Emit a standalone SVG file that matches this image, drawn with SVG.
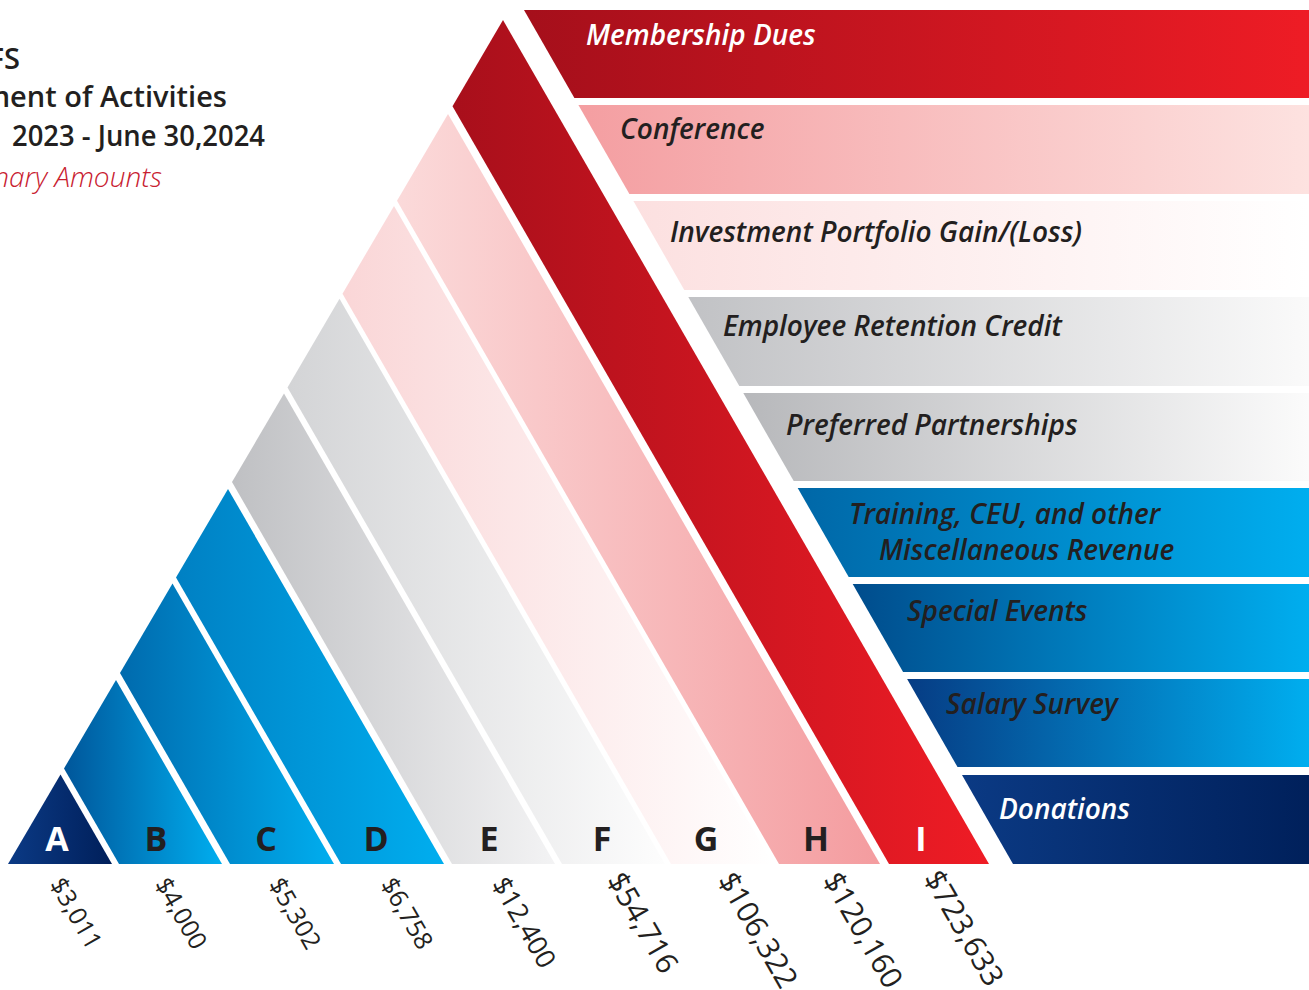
<svg xmlns="http://www.w3.org/2000/svg" width="1309" height="990" viewBox="0 0 1309 990">
<defs>
<linearGradient id="gA" x1="0" y1="0" x2="1" y2="0"><stop offset="0" stop-color="#0b3a85"/><stop offset="1" stop-color="#001f5a"/></linearGradient>
<linearGradient id="gB" x1="0" y1="0" x2="1" y2="0"><stop offset="0" stop-color="#00569a"/><stop offset="1" stop-color="#00aeef"/></linearGradient>
<linearGradient id="gC" x1="0" y1="0" x2="1" y2="0"><stop offset="0" stop-color="#006aad"/><stop offset="1" stop-color="#00aeef"/></linearGradient>
<linearGradient id="gD" x1="0" y1="0" x2="1" y2="0"><stop offset="0" stop-color="#0080c3"/><stop offset="1" stop-color="#00aeef"/></linearGradient>
<linearGradient id="gE" x1="0" y1="0" x2="1" y2="0"><stop offset="0" stop-color="#bfc0c3"/><stop offset="1" stop-color="#f3f3f4"/></linearGradient>
<linearGradient id="gF" x1="0" y1="0" x2="1" y2="0"><stop offset="0" stop-color="#d3d4d6"/><stop offset="1" stop-color="#fdfdfd"/></linearGradient>
<linearGradient id="gG" x1="0" y1="0" x2="1" y2="0"><stop offset="0" stop-color="#fad6d7"/><stop offset="1" stop-color="#ffffff"/></linearGradient>
<linearGradient id="gH" x1="0" y1="0" x2="1" y2="0"><stop offset="0" stop-color="#fbdada"/><stop offset="1" stop-color="#f49c9f"/></linearGradient>
<linearGradient id="gI" x1="0" y1="0" x2="1" y2="0"><stop offset="0" stop-color="#a80f1b"/><stop offset="1" stop-color="#ef1c25"/></linearGradient>
<linearGradient id="b1" x1="0" y1="0" x2="1" y2="0"><stop offset="0" stop-color="#a50f1b"/><stop offset="1" stop-color="#ee1c25"/></linearGradient>
<linearGradient id="b2" x1="0" y1="0" x2="1" y2="0"><stop offset="0" stop-color="#f49ea1"/><stop offset="1" stop-color="#fde2e0"/></linearGradient>
<linearGradient id="b3" x1="0" y1="0" x2="1" y2="0"><stop offset="0" stop-color="#fce0e0"/><stop offset="1" stop-color="#ffffff"/></linearGradient>
<linearGradient id="b4" x1="0" y1="0" x2="1" y2="0"><stop offset="0" stop-color="#c1c2c5"/><stop offset="1" stop-color="#fafafa"/></linearGradient>
<linearGradient id="b5" x1="0" y1="0" x2="1" y2="0"><stop offset="0" stop-color="#b7b8bb"/><stop offset="1" stop-color="#fbfbfb"/></linearGradient>
<linearGradient id="b6" x1="0" y1="0" x2="1" y2="0"><stop offset="0" stop-color="#0067a7"/><stop offset="1" stop-color="#00aeef"/></linearGradient>
<linearGradient id="b7" x1="0" y1="0" x2="1" y2="0"><stop offset="0" stop-color="#004c8c"/><stop offset="1" stop-color="#00aeef"/></linearGradient>
<linearGradient id="b8" x1="0" y1="0" x2="1" y2="0"><stop offset="0" stop-color="#063c84"/><stop offset="1" stop-color="#00aeef"/></linearGradient>
<linearGradient id="b9" x1="0" y1="0" x2="1" y2="0"><stop offset="0" stop-color="#0b3a84"/><stop offset="1" stop-color="#00205b"/></linearGradient>
</defs>
<style>
.title{font-family:"Open Sans","Noto Sans",sans-serif;font-weight:600;font-size:29px;fill:#231f20}
.sub{font-family:"Open Sans","Noto Sans",sans-serif;font-weight:300;font-style:italic;font-size:28px;fill:#c8202f}
.bar{font-family:"Open Sans","Noto Sans",sans-serif;font-weight:600;font-style:italic;font-size:28px;fill:#231f20}
.let{font-family:"Open Sans","Noto Sans",sans-serif;font-weight:700;font-size:34px;fill:#231f20;text-anchor:middle}
.bar.wt,.let.wt{fill:#ffffff}
.amt{font-family:"Open Sans","Noto Sans",sans-serif;font-weight:400;fill:#231f20}
.s1{font-size:25px}
.s2{font-size:27px}
.s3{font-size:30px}
</style>
<rect width="1309" height="990" fill="#ffffff"/>
<g id="title">
<text class="title" x="20" y="69" text-anchor="end">FS</text>
<text class="title" x="227" y="107" text-anchor="end">ment of Activities</text>
<text class="title" x="12" y="146" textLength="253" lengthAdjust="spacingAndGlyphs">2023 - June 30,2024</text>
<text class="sub" x="162" y="187" text-anchor="end">nary Amounts</text>
</g>
<g id="bar-membership"><polygon points="524,10 1309,10 1309,98 574.4,98" fill="url(#b1)"/><text class="bar wt" x="586" y="45">Membership Dues</text></g>
<g id="bar-conference"><polygon points="578.4,105 1309,105 1309,194 629.4,194" fill="url(#b2)"/><text class="bar" x="620" y="139">Conference</text></g>
<g id="bar-investment"><polygon points="633.4,201 1309,201 1309,290 684.3,290" fill="url(#b3)"/><text class="bar" x="670" y="242">Investment Portfolio Gain/(Loss)</text></g>
<g id="bar-employee"><polygon points="688.3,297 1309,297 1309,386 739.3,386" fill="url(#b4)"/><text class="bar" x="723" y="336">Employee Retention Credit</text></g>
<g id="bar-preferred"><polygon points="743.3,393 1309,393 1309,481 793.7,481" fill="url(#b5)"/><text class="bar" x="786" y="435">Preferred Partnerships</text></g>
<g id="bar-training"><polygon points="797.7,488 1309,488 1309,577 848.7,577" fill="url(#b6)"/><text class="bar" x="849" y="524">Training, CEU, and other</text><text class="bar" x="879" y="560">Miscellaneous Revenue</text></g>
<g id="bar-special"><polygon points="852.7,584 1309,584 1309,672 903.1,672" fill="url(#b7)"/><text class="bar" x="907" y="621">Special Events</text></g>
<g id="bar-salary"><polygon points="907.1,679 1309,679 1309,767 957.5,767" fill="url(#b8)"/><text class="bar" x="946" y="714">Salary Survey</text></g>
<g id="bar-donations"><polygon points="962,775 1309,775 1309,864 1013,864" fill="url(#b9)"/><text class="bar wt" x="999" y="819">Donations</text></g>
<g id="band-A"><polygon points="8,864 112,864 60.5,774.5" fill="url(#gA)"/><text class="let wt" x="57" y="851">A</text><text class="amt s1" transform="translate(49,884) rotate(60)">$3,011</text></g>
<g id="band-B"><polygon points="64,768.5 119,864 222,864 116,679.9" fill="url(#gB)"/><text class="let" x="156" y="851">B</text><text class="amt s1" transform="translate(154,884) rotate(60)">$4,000</text></g>
<g id="band-C"><polygon points="120,673 230,864 334,864 172.5,583.6" fill="url(#gC)"/><text class="let" x="266" y="851">C</text><text class="amt s1" transform="translate(268,884) rotate(60)">$5,302</text></g>
<g id="band-D"><polygon points="176,577.5 341,864 444,864 228,489" fill="url(#gD)"/><text class="let" x="376" y="851">D</text><text class="amt s1" transform="translate(380,884) rotate(60)">$6,758</text></g>
<g id="band-E"><polygon points="232,482 452,864 555,864 284,393.5" fill="url(#gE)"/><text class="let" x="489" y="851">E</text><text class="amt s2" transform="translate(491,884) rotate(60)">$12,400</text></g>
<g id="band-F"><polygon points="287.5,387.4 562,864 665,864 339.5,298.8" fill="url(#gF)"/><text class="let" x="602" y="851">F</text><text class="amt s3" transform="translate(606,880) rotate(60)">$54,716</text></g>
<g id="band-G"><polygon points="342.5,293.7 671,864 773,864 394,205.9" fill="url(#gG)"/><text class="let" x="706" y="851">G</text><text class="amt s3" transform="translate(717,880) rotate(60)">$106,322</text></g>
<g id="band-H"><polygon points="397,200.8 779,864 880,864 448,113.9" fill="url(#gH)"/><text class="let" x="816" y="851">H</text><text class="amt s3" transform="translate(822,880) rotate(60)">$120,160</text></g>
<g id="band-I"><polygon points="452.5,106.2 889,864 989,864 503,20" fill="url(#gI)"/><text class="let wt" x="921" y="851">I</text><text class="amt s3" transform="translate(923,878) rotate(60)">$723,633</text></g>
</svg>
